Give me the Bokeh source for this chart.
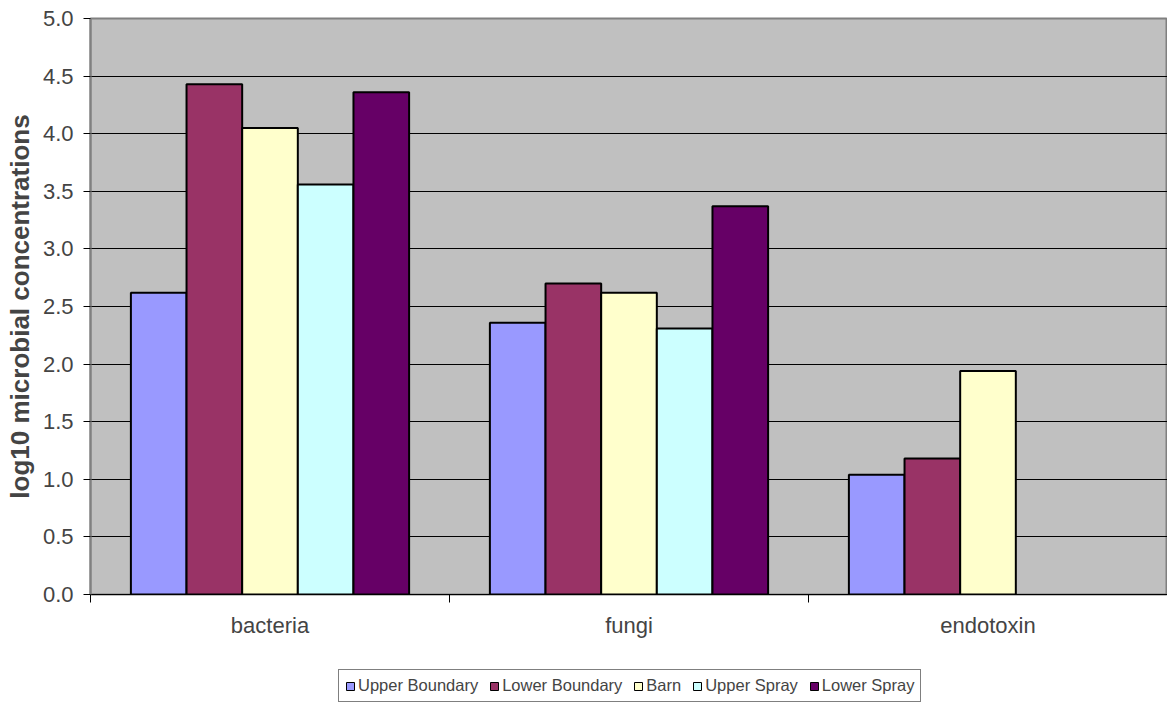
from bokeh.plotting import figure
from bokeh.layouts import column
from bokeh.models import (ColumnDataSource, FixedTicker, Range1d, Legend,
                          LegendItem, NumeralTickFormatter)
from bokeh.embed import file_html
from bokeh.resources import INLINE

# Sample types (x-axis groups)
categories = ["bacteria", "fungi", "endotoxin"]

# Sampling locations (one bar per location in each group)
series = ["Upper Boundary", "Lower Boundary", "Barn", "Upper Spray", "Lower Spray"]

# log10 concentrations, one list per location, ordered as categories
upper_boundary = [2.62, 2.36, 1.04]
lower_boundary = [4.43, 2.70, 1.18]
barn = [4.05, 2.62, 1.94]
upper_spray = [3.56, 2.31, float("nan")]
lower_spray = [4.36, 3.37, float("nan")]

y_ticks = [0.0, 0.5, 1.0, 1.5, 2.0, 2.5, 3.0, 3.5, 4.0, 4.5, 5.0]

colors = ["#9999FF", "#993366", "#FFFFCC", "#CCFFFF", "#660066"]
values = [upper_boundary, lower_boundary, barn, upper_spray, lower_spray]

FONT = "Liberation Sans"
BAR_W = 0.155

centers = [i + 0.5 for i in range(len(categories))]
sources = []
for k, vals in enumerate(values):
    xs = [c + (k - 2) * BAR_W for c in centers]
    sources.append(ColumnDataSource(dict(x=xs, top=vals)))

# ---- main bar chart -------------------------------------------------------
p = figure(frame_width=1077, frame_height=576, output_backend="svg",
           toolbar_location=None, x_range=Range1d(0, 3), y_range=Range1d(0, 5),
           min_border_left=90, min_border_top=18, min_border_bottom=60,
           min_border_right=0)
p.border_fill_color = "white"
p.background_fill_color = "#C0C0C0"
p.outline_line_color = "#808080"
p.outline_line_width = 2

for src, col in zip(sources, colors):
    p.vbar(x="x", top="top", width=BAR_W, bottom=0, source=src,
           fill_color=col, line_color="black", line_width=2)

# x axis: labels at group centres, tick marks at group boundaries
p.xaxis.ticker = FixedTicker(ticks=centers, minor_ticks=[0, 1, 2, 3])
p.xaxis.major_label_overrides = {c: n for c, n in zip(centers, categories)}
p.xaxis.major_tick_line_color = None
p.xaxis.minor_tick_out = 8
p.xaxis.minor_tick_in = 0
p.xaxis.minor_tick_line_color = "black"
p.xaxis.axis_line_color = "black"
p.xaxis.axis_line_width = 1
p.xaxis.major_label_text_font = FONT
p.xaxis.major_label_text_font_size = "22px"
p.xaxis.major_label_standoff = 10

p.yaxis.ticker = FixedTicker(ticks=y_ticks)
p.yaxis.formatter = NumeralTickFormatter(format="0.0")
p.yaxis.minor_tick_line_color = None
p.yaxis.major_tick_out = 7
p.yaxis.major_tick_in = 0
p.yaxis.major_tick_line_color = "black"
p.yaxis.axis_line_color = "#808080"
p.yaxis.axis_line_width = 2
p.yaxis.major_label_text_font = FONT
p.yaxis.major_label_text_font_size = "22px"
p.yaxis.major_label_standoff = 10
p.yaxis.axis_label = "log10 microbial concentrations"
p.yaxis.axis_label_text_font = FONT
p.yaxis.axis_label_text_font_style = "bold"
p.yaxis.axis_label_text_font_size = "26px"
p.yaxis.axis_label_standoff = 5

p.xgrid.grid_line_color = None
p.ygrid.ticker = FixedTicker(ticks=y_ticks)
p.ygrid.grid_line_color = "black"
p.ygrid.grid_line_width = 1
p.ygrid.grid_line_alpha = 1.0

# ---- legend strip under the chart -----------------------------------------
# hidden copies of the bar series supply the legend swatches
leg = figure(width=1167, height=48, output_backend="svg", toolbar_location=None,
             x_axis_type=None, y_axis_type=None, x_range=Range1d(0, 3),
             y_range=Range1d(0, 5), min_border=0)
leg.outline_line_color = None
leg.grid.visible = False
leg.background_fill_color = "white"
leg.border_fill_color = "white"

items = []
for name, src, col in zip(series, sources, colors):
    r = leg.vbar(x="x", top="top", width=BAR_W, bottom=0, source=src,
                 fill_color=col, line_color="black", line_width=1,
                 visible=False)
    items.append(LegendItem(label=name, renderers=[r]))

legend = Legend(items=items, orientation="horizontal", location=(248, 0),
                label_text_font=FONT, label_text_font_size="16.5px",
                glyph_width=10, glyph_height=10, label_standoff=3,
                spacing=11, padding=6, margin=0,
                inactive_fill_alpha=0.0,
                border_line_color="black", border_line_width=1,
                background_fill_color="white", background_fill_alpha=1.0)
leg.add_layout(legend, "center")

layout = column(p, leg, spacing=0)
open("out.html", "w").write(file_html(layout, INLINE))
